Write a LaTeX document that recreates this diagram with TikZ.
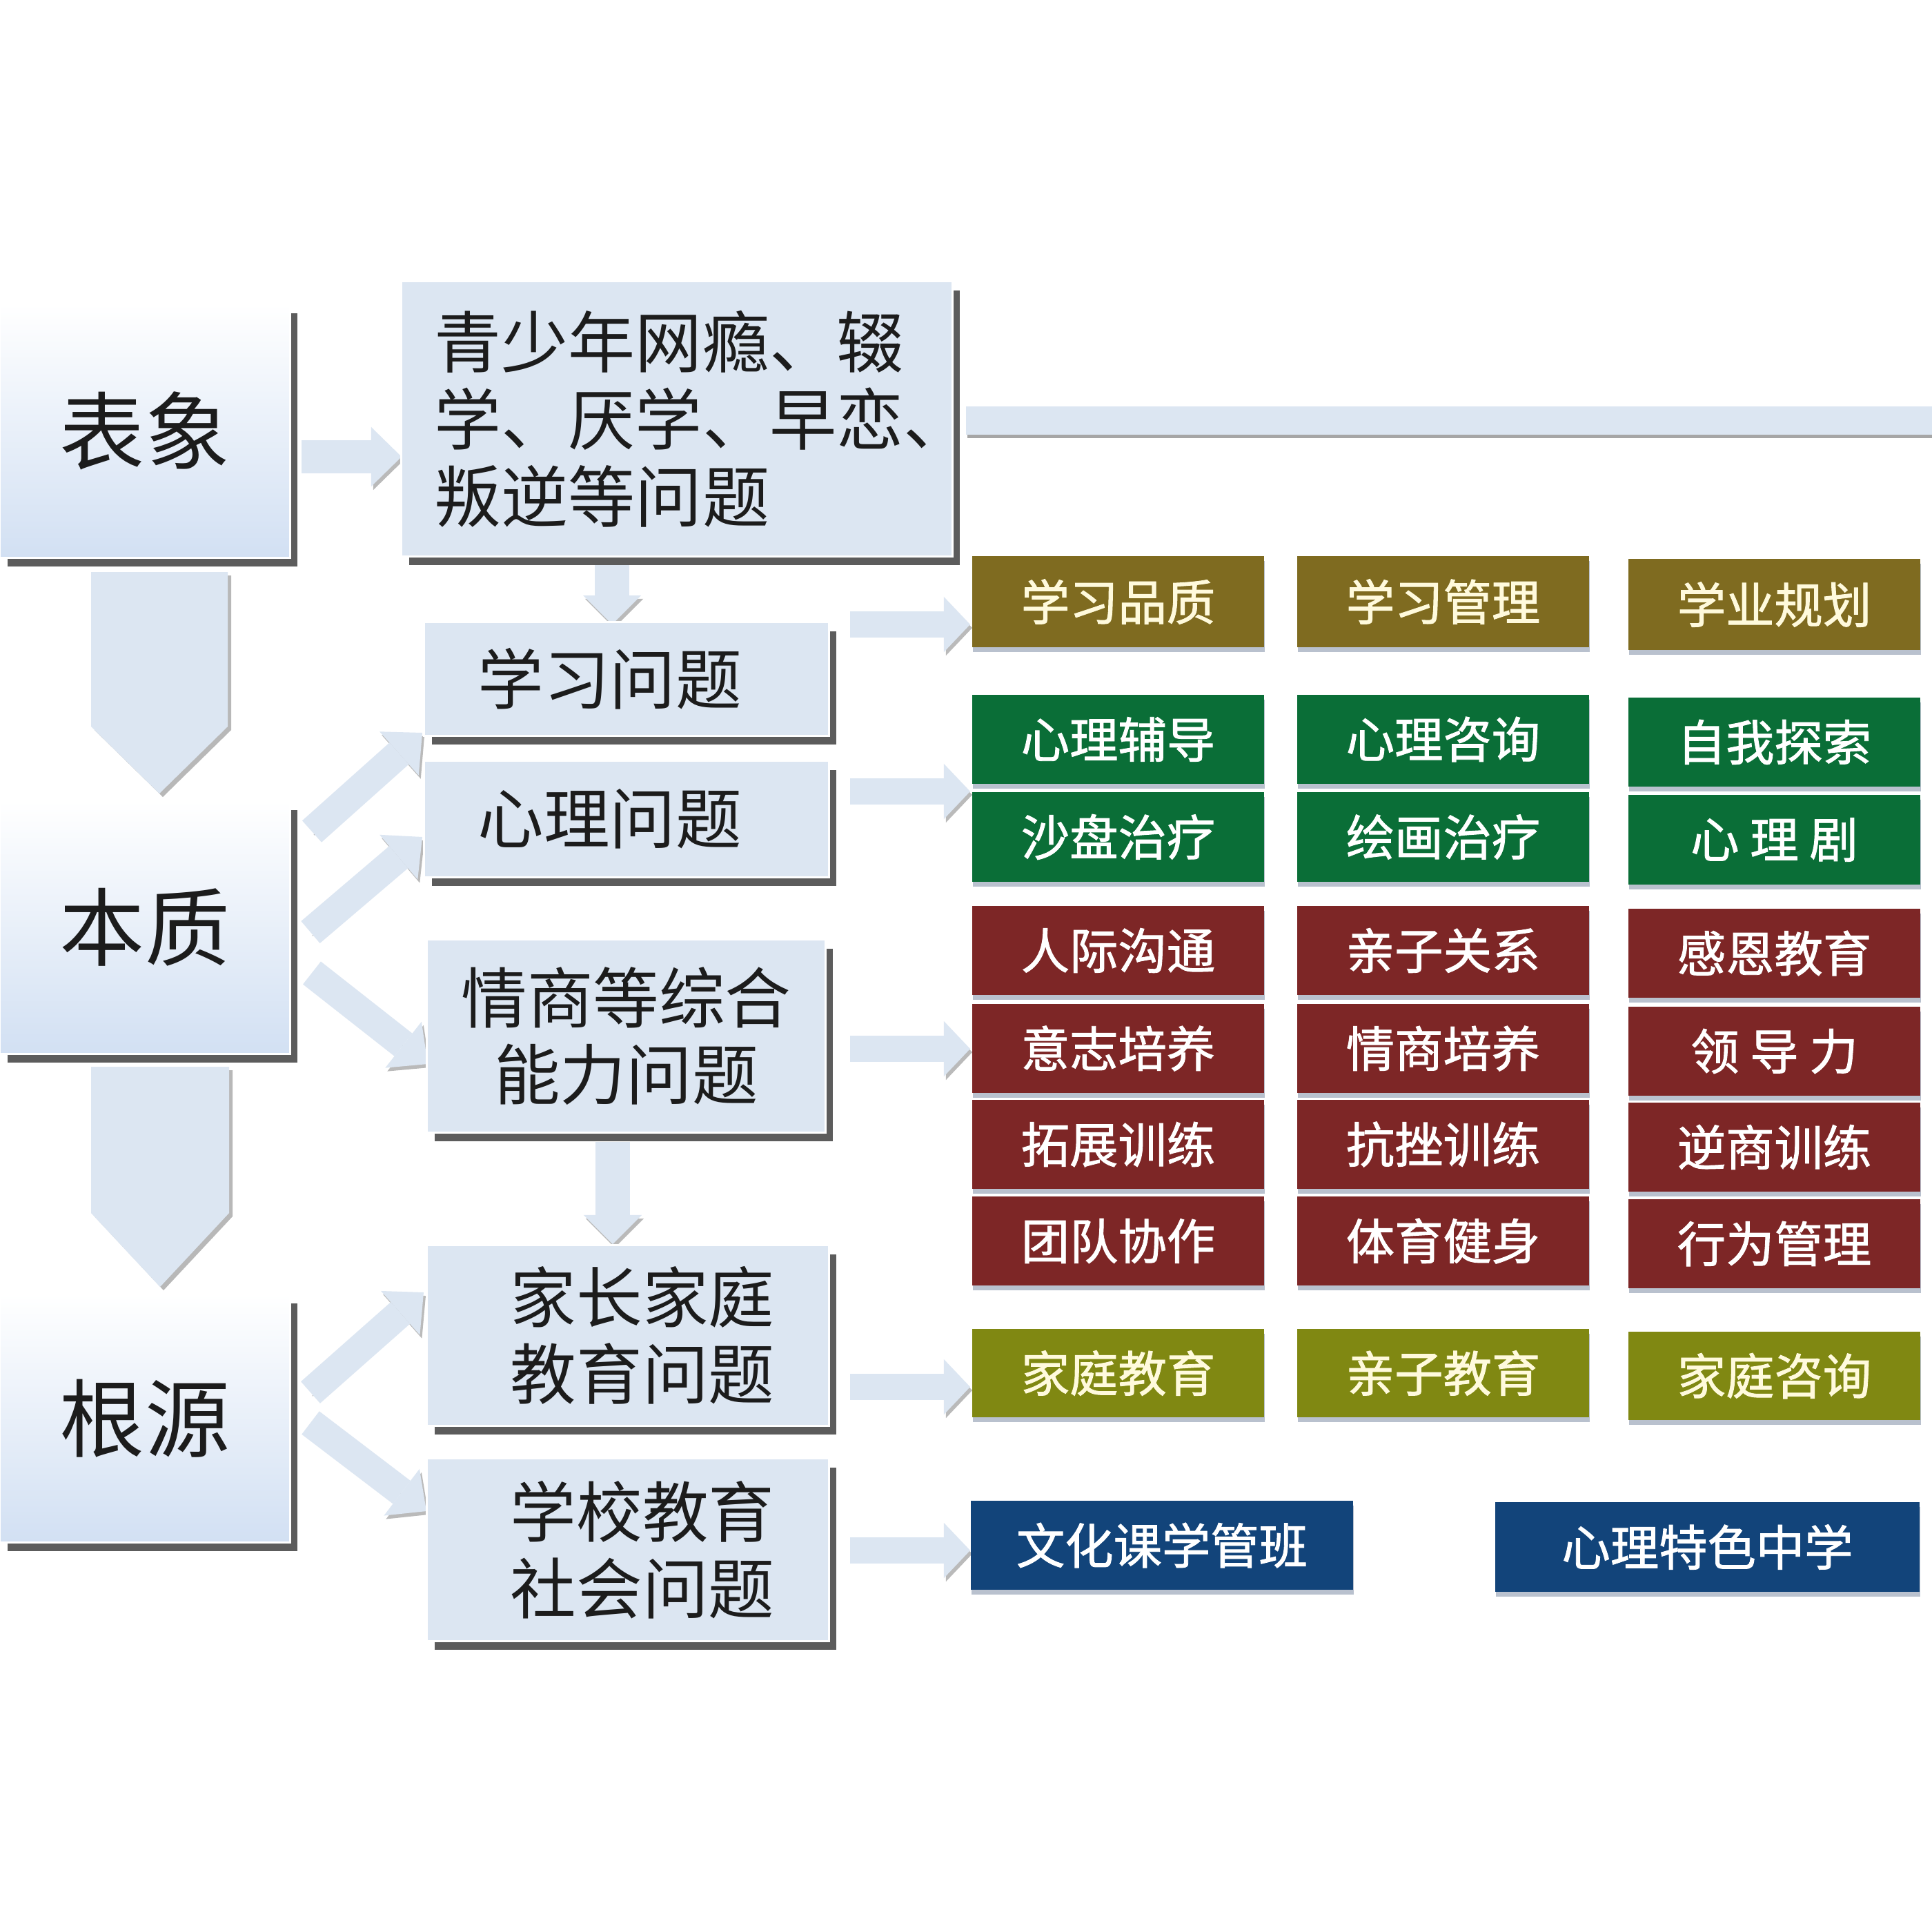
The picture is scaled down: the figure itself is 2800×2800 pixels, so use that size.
\documentclass[tikz,border=0pt]{standalone}
\usepackage{fontspec}
\newfontfamily\cjk{Noto Sans CJK SC}
\newfontfamily\cjkm[FakeBold=1.3]{Noto Sans CJK SC}
\usetikzlibrary{arrows.meta,shadows}
\definecolor{lb}{RGB}{220,230,242}
\definecolor{lbb}{RGB}{210,224,243}
\definecolor{olv}{RGB}{127,107,32}
\definecolor{grn}{RGB}{10,110,55}
\definecolor{rdd}{RGB}{125,38,38}
\definecolor{ylo}{RGB}{128,136,18}
\definecolor{nvy}{RGB}{18,68,122}
\definecolor{shd}{RGB}{92,92,92}
\definecolor{csh}{RGB}{185,193,206}
\definecolor{txt}{RGB}{28,28,28}
\definecolor{cream}{RGB}{255,250,220}
\newcommand\shx[2]{\makebox[0pt]{\hspace{#1}#2}}
\begin{document}
\begin{tikzpicture}[x=0.01cm,y=-0.01cm,
  boxshadow/.style={drop shadow={shadow xshift=0.11cm,shadow yshift=-0.13cm,fill=shd,opacity=1}},
  lbox/.style={boxshadow, top color=white, bottom color=lbb, draw=white, line width=0.03cm, inner sep=0pt, text=txt, font=\cjk\fontsize{35}{40}\selectfont, minimum width=4.2cm},
  mbox/.style={boxshadow, fill=lb, draw=white, line width=0.03cm, inner sep=0pt, text=txt, align=center, font=\cjk\fontsize{27.2}{31.6}\selectfont},
  cbox/.style={inner sep=0pt, text=white, font=\cjkm\fontsize{20}{24}\selectfont, minimum width=4.23cm, minimum height=1.29cm, drop shadow={shadow xshift=0.01cm,shadow yshift=-0.07cm,fill=csh,opacity=1}},
  olvbox/.style={cbox, fill=olv, text=cream, minimum height=1.32cm},
  grnbox/.style={cbox, fill=grn},
  rddbox/.style={cbox, fill=rdd},
  ylobox/.style={cbox, fill=ylo, text=cream, minimum height=1.28cm},
  nvybox/.style={cbox, fill=nvy},
  chev/.style={fill=lb, drop shadow={shadow xshift=0.05cm,shadow yshift=-0.05cm,fill=black!28,opacity=1}},
  arrbase/.style={draw=lb, preaction={draw=black!27, transform canvas={xshift=0.03cm,yshift=-0.05cm}}},
  bigarr/.style={arrbase, line width=0.48cm, -{Triangle[length=0.44cm,width=0.86cm,line width=0pt]}},
  darr/.style={arrbase, line width=0.50cm, -{Triangle[length=0.42cm,width=0.84cm,line width=0pt]}},
  diagarr/.style={arrbase, line width=0.42cm, -{Triangle[length=0.45cm,width=0.85cm,line width=0pt]}},
  rarr/.style={arrbase, line width=0.38cm, -{Triangle[length=0.38cm,width=0.80cm,line width=0pt]}}
]
\fill[white] (0,0) rectangle (2800,2800);
\useasboundingbox (0,0) rectangle (2800,2800);

% top bar
\path[fill=lb, drop shadow={shadow xshift=0.02cm,shadow yshift=-0.05cm,fill=black!35,opacity=1}] (1400,589) rectangle (2800,630);

% chevrons between left boxes
\path[chev] (132,829) -- (330,829) -- (330,1053) -- (231,1150) -- (132,1053) -- cycle;
\path[chev] (132,1546) -- (332,1546) -- (332,1758) -- (232,1865) -- (132,1758) -- cycle;

% arrow end coordinates
\coordinate (a1s) at (437,662);  \coordinate (a1e) at (582,662);
\coordinate (d1s) at (887,812);  \coordinate (d1e) at (887,905);
\coordinate (d2s) at (888,1655); \coordinate (d2e) at (888,1803);
\coordinate (g1s) at (452,1205); \coordinate (g1e) at (612,1062);
\coordinate (g2s) at (450,1351); \coordinate (g2e) at (612,1213);
\coordinate (g3s) at (452,1410); \coordinate (g3e) at (620,1542);
\coordinate (g4s) at (450,2018); \coordinate (g4e) at (614,1873);
\coordinate (g5s) at (450,2062); \coordinate (g5e) at (618,2190);
\coordinate (r1s) at (1232,905);  \coordinate (r1e) at (1406,905);
\coordinate (r2s) at (1232,1147); \coordinate (r2e) at (1406,1147);
\coordinate (r3s) at (1232,1520); \coordinate (r3e) at (1406,1520);
\coordinate (r4s) at (1232,2010); \coordinate (r4e) at (1406,2010);
\coordinate (r5s) at (1232,2247); \coordinate (r5e) at (1406,2247);

\draw[bigarr] (a1s) -- (a1e);
\draw[darr] (d1s) -- (d1e);
\draw[darr] (d2s) -- (d2e);
\draw[diagarr] (g1s) -- (g1e);
\draw[diagarr] (g2s) -- (g2e);
\draw[diagarr] (g3s) -- (g3e);
\draw[diagarr] (g4s) -- (g4e);
\draw[diagarr] (g5s) -- (g5e);
\draw[rarr] (r1s) -- (r1e);
\draw[rarr] (r2s) -- (r2e);
\draw[rarr] (r3s) -- (r3e);
\draw[rarr] (r4s) -- (r4e);
\draw[rarr] (r5s) -- (r5e);

% left column
\node[lbox, minimum height=3.67cm] (biao) at (210,624.5) {表象};
\node[lbox, minimum height=3.66cm] (benz) at (210,1344) {本质};
\node[lbox, minimum height=3.59cm] (geny) at (210,2055.5) {根源};

% middle column
\node[mbox, font=\cjk\fontsize{27.6}{31.9}\selectfont, minimum width=7.98cm, minimum height=3.98cm, text width=7.02cm, align=left, inner xsep=0.48cm] (big) at (981,607) {青少年网瘾、辍\\学、厌学、早恋、\\叛逆等问题};
\node[mbox, minimum width=5.86cm, minimum height=1.64cm] (xxwt) at (908,984) {\shx{-0.48cm}{学习问题}};
\node[mbox, minimum width=5.86cm, minimum height=1.68cm] (xlwt) at (908,1187) {\shx{-0.48cm}{心理问题}};
\node[mbox, minimum width=5.77cm, minimum height=2.79cm] (qswt) at (907.5,1501.5) {情商等综合\\能力问题};
\node[mbox, minimum width=5.82cm, minimum height=2.61cm] (jzwt) at (910,1935.5) {\shx{0.42cm}{家长家庭}\\\shx{0.42cm}{教育问题}};
\node[mbox, minimum width=5.82cm, minimum height=2.64cm] (xxsh) at (910,2246) {\shx{0.42cm}{学校教育}\\\shx{0.42cm}{社会问题}};

% right boxes
\node[olvbox] (o1) at (1620.5,872) {学习品质};
\node[olvbox] (o2) at (2091.5,872) {学习管理};
\node[olvbox] (o3) at (2571.5,876) {学业规划};

\node[grnbox] (g11) at (1620.5,1071.5) {心理辅导};
\node[grnbox] (g12) at (2091.5,1071.5) {心理咨询};
\node[grnbox] (g13) at (2571.5,1075.5) {自我探索};
\node[grnbox] (g21) at (1620.5,1213) {沙盘治疗};
\node[grnbox] (g22) at (2091.5,1213) {绘画治疗};
\node[grnbox] (g23) at (2571.5,1217) {心 理 剧};

\node[rddbox] (h11) at (1620.5,1377.5) {人际沟通};
\node[rddbox] (h12) at (2091.5,1377.5) {亲子关系};
\node[rddbox] (h13) at (2571.5,1381.5) {感恩教育};
\node[rddbox] (h21) at (1620.5,1519.5) {意志培养};
\node[rddbox] (h22) at (2091.5,1519.5) {情商培养};
\node[rddbox] (h23) at (2571.5,1523.5) {领 导 力};
\node[rddbox] (h31) at (1620.5,1658.5) {拓展训练};
\node[rddbox] (h32) at (2091.5,1658.5) {抗挫训练};
\node[rddbox] (h33) at (2571.5,1662.5) {逆商训练};
\node[rddbox] (h41) at (1620.5,1798.5) {团队协作};
\node[rddbox] (h42) at (2091.5,1798.5) {体育健身};
\node[rddbox] (h43) at (2571.5,1802.5) {行为管理};

\node[ylobox] (y1) at (1620.5,1990) {家庭教育};
\node[ylobox] (y2) at (2091.5,1990) {亲子教育};
\node[ylobox] (y3) at (2571.5,1994) {家庭咨询};

\node[nvybox, minimum width=5.54cm] (b1) at (1684,2239.5) {文化课学管班};
\node[nvybox, minimum width=6.15cm] (b2) at (2474.5,2242) {心理特色中学};
\end{tikzpicture}
\end{document}
